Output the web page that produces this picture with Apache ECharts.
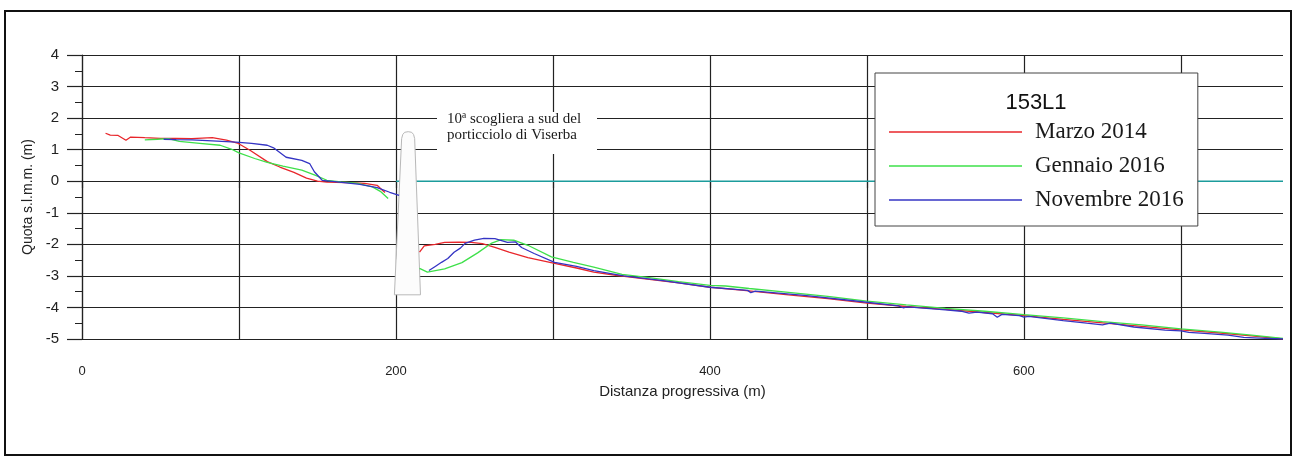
<!DOCTYPE html>
<html>
<head>
<meta charset="utf-8">
<script src="https://cdn.jsdelivr.net/npm/echarts@6/dist/echarts.min.js"></script>
<style>
  html, body { margin: 0; padding: 0; background: #fff; }
  #chart { width: 1296px; height: 463px; }
</style>
</head>
<body>
<div id="chart"></div>
<script>
// profili di spiaggia 153L1 - distanza (m), quota (m s.l.m.m.)
// '-' interrompe la linea dove c'e' la scogliera
var marzo2014 = [
  [15, 1.52], [18, 1.46], [23, 1.45], [28, 1.30], [31, 1.40], [40, 1.38], [50, 1.36], [60, 1.36],
  [70, 1.35], [83, 1.38], [92, 1.30], [99, 1.21], [107, 0.98], [118, 0.62], [126, 0.45], [135, 0.28],
  [143, 0.10], [150, 0.0], [156, -0.03], [168, -0.04], [180, -0.07], [188, -0.13], [191, -0.27], [193, -0.36],
  [205, '-'],
  [215, -2.25], [218, -2.05], [225, -2.0], [231, -1.94], [240, -1.93], [248, -1.94], [255, -1.98], [263, -2.1],
  [272, -2.25], [284, -2.42], [301, -2.6], [315, -2.75], [326, -2.88], [340, -2.98], [360, -3.1], [380, -3.22],
  [400, -3.36], [420, -3.45], [450, -3.6], [475, -3.72], [500, -3.86], [525, -3.97], [550, -4.06], [575, -4.16],
  [600, -4.26], [625, -4.38], [650, -4.49], [675, -4.6], [700, -4.71], [725, -4.81], [745, -4.9], [765, -5.0]
];
var gennaio2016 = [
  [40, 1.31], [48, 1.33], [55, 1.35], [62, 1.26], [75, 1.2], [88, 1.14], [95, 1.02], [100, 0.9],
  [110, 0.72], [118, 0.6], [128, 0.48], [140, 0.35], [148, 0.2], [156, 0.03], [165, -0.02], [175, -0.06],
  [185, -0.18], [190, -0.32], [195, -0.55],
  [205, '-'],
  [215, -2.76], [220, -2.88], [231, -2.78], [242, -2.58], [252, -2.27], [261, -1.96], [267, -1.85], [275, -1.87],
  [284, -2.03], [299, -2.4], [313, -2.57], [326, -2.72], [344, -2.95], [360, -3.05], [380, -3.18], [400, -3.3],
  [410, -3.32], [425, -3.4], [450, -3.52], [475, -3.65], [500, -3.8], [525, -3.92], [550, -4.03], [575, -4.12],
  [600, -4.23], [625, -4.33], [650, -4.45], [675, -4.55], [700, -4.68], [725, -4.78], [745, -4.88], [765, -4.98]
];
var novembre2016 = [
  [52, 1.33], [60, 1.32], [70, 1.31], [83, 1.28], [98, 1.24], [108, 1.2], [118, 1.14], [122, 1.06],
  [130, 0.76], [140, 0.66], [145, 0.56], [148, 0.3], [153, 0.03], [164, -0.03], [177, -0.1], [188, -0.2],
  [196, -0.35], [202, -0.45],
  [208, '-'],
  [221, -2.83], [225, -2.7], [229, -2.57], [233, -2.45], [237, -2.25], [241, -2.12], [244, -1.97], [250, -1.87],
  [256, -1.81], [263, -1.82], [271, -1.94], [276, -1.92], [280, -2.1], [288, -2.29], [301, -2.57], [315, -2.7],
  [326, -2.83], [345, -3.0], [370, -3.15], [400, -3.36], [424, -3.46], [426, -3.53], [429, -3.48], [460, -3.62],
  [490, -3.78], [520, -3.95], [523, -4.01], [526, -3.98], [550, -4.08], [560, -4.12], [565, -4.18], [570, -4.15],
  [580, -4.2], [583, -4.31], [586, -4.22], [597, -4.26], [600, -4.31], [603, -4.28], [625, -4.42], [640, -4.5],
  [650, -4.55], [655, -4.5], [670, -4.62], [690, -4.72], [700, -4.74], [705, -4.79], [715, -4.82], [730, -4.88],
  [740, -4.95], [750, -4.97], [765, -5.0]
];
var livelloMare = [[200, 0], [765, 0]];

// sagoma della scogliera (coordinate dati)
var scoglieraX = [199, 203.6, 204.3, 205.5, 207.8, 210, 211.2, 211.9, 215.6];
var scoglieraY = [-3.6, 1.35, 1.48, 1.55, 1.57, 1.55, 1.48, 1.35, -3.6];

var xMax = 765;
var xLabels = [0, 200, 400, 600];

var chart = echarts.init(document.getElementById('chart'));

var profilo = function (name, color, data) {
  return {
    name: name,
    type: 'line',
    data: data,
    symbol: 'none',
    connectNulls: false,
    lineStyle: { color: color, width: 1.3 },
    itemStyle: { color: color },
    z: 4
  };
};

chart.setOption({
  animation: false,
  backgroundColor: '#fff',
  grid: { left: 82, right: 13, top: 55, bottom: 124 },
  xAxis: {
    type: 'value',
    min: 0,
    max: xMax,
    interval: 100,
    name: 'Distanza progressiva (m)',
    nameLocation: 'middle',
    nameGap: 45,
    nameTextStyle: { fontFamily: 'Liberation Sans', fontSize: 15, color: '#222' },
    axisLine: { show: false },
    axisTick: { show: true, length: 7, lineStyle: { color: '#222', width: 1.2 } },
    axisLabel: {
      margin: 26,
      fontFamily: 'Liberation Sans',
      fontSize: 13,
      color: '#222',
      showMaxLabel: false,
      formatter: function (v) { return xLabels.indexOf(v) >= 0 ? String(v) : ''; }
    },
    splitLine: { show: true, showMaxLine: false, lineStyle: { color: '#222', width: 1.2 } }
  },
  yAxis: {
    type: 'value',
    min: -5,
    max: 4,
    interval: 1,
    name: 'Quota s.l.m.m. (m)',
    nameLocation: 'middle',
    nameGap: 40,
    nameTextStyle: { fontFamily: 'Liberation Sans', fontSize: 14, color: '#222' },
    axisLine: { show: true, lineStyle: { color: '#222', width: 1.2 } },
    axisTick: { show: true, length: 15, lineStyle: { color: '#222', width: 1.2 } },
    minorTick: { show: true, splitNumber: 2, length: 7, lineStyle: { color: '#222' } },
    axisLabel: { margin: 23, fontFamily: 'Liberation Sans', fontSize: 15, color: '#222' },
    splitLine: { show: true, lineStyle: { color: '#222', width: 1.2 } }
  },
  legend: {
    left: 875,
    top: 73,
    orient: 'vertical',
    data: ['Marzo 2014', 'Gennaio 2016', 'Novembre 2016'],
    icon: 'rect',
    itemWidth: 133,
    itemHeight: 1.5,
    itemGap: 10,
    padding: [47, 14, 14, 14],
    backgroundColor: '#fff',
    borderColor: '#444',
    borderWidth: 1,
    textStyle: {
      fontFamily: 'Liberation Serif',
      fontSize: 23,
      lineHeight: 24,
      color: '#1a1a1a',
      padding: [0, 0, 0, 8]
    }
  },
  graphic: [
    {
      type: 'rect',
      shape: { x: 5, y: 11, width: 1286, height: 444 },
      style: { fill: 'none', stroke: '#111', lineWidth: 2 },
      z: 100
    },
    {
      type: 'text',
      x: 1036,
      y: 103,
      style: {
        text: '153L1',
        fontFamily: 'Liberation Sans',
        fontSize: 22,
        fill: '#111',
        textAlign: 'center',
        textVerticalAlign: 'middle'
      },
      z: 100
    },
    {
      type: 'rect',
      shape: { x: 437, y: 112, width: 160, height: 42 },
      style: { fill: '#fff' },
      z: 50
    },
    {
      type: 'text',
      x: 447,
      y: 127,
      style: {
        text: '10ª scogliera a sud del\nporticciolo di Viserba',
        fontFamily: 'Liberation Serif',
        fontSize: 15,
        lineHeight: 16,
        fill: '#1a1a1a',
        textVerticalAlign: 'middle'
      },
      z: 51
    }
  ],
  series: [
    {
      name: 'livello mare',
      type: 'line',
      data: livelloMare,
      symbol: 'none',
      lineStyle: { color: '#1c9c9c', width: 1.5 },
      z: 2
    },
    {
      name: 'scogliera',
      type: 'custom',
      data: [[scoglieraX[0], scoglieraY[0]]],
      z: 3,
      renderItem: function (params, api) {
        var pts = scoglieraX.map(function (x, i) { return api.coord([x, scoglieraY[i]]); });
        return {
          type: 'polygon',
          shape: { points: pts },
          style: { fill: '#fcfcfc', stroke: '#b8b8b8', lineWidth: 1 }
        };
      }
    },
    profilo('Marzo 2014', '#e8262b', marzo2014),
    profilo('Gennaio 2016', '#3ee04a', gennaio2016),
    profilo('Novembre 2016', '#3434c4', novembre2016)
  ]
});
</script>
</body>
</html>
